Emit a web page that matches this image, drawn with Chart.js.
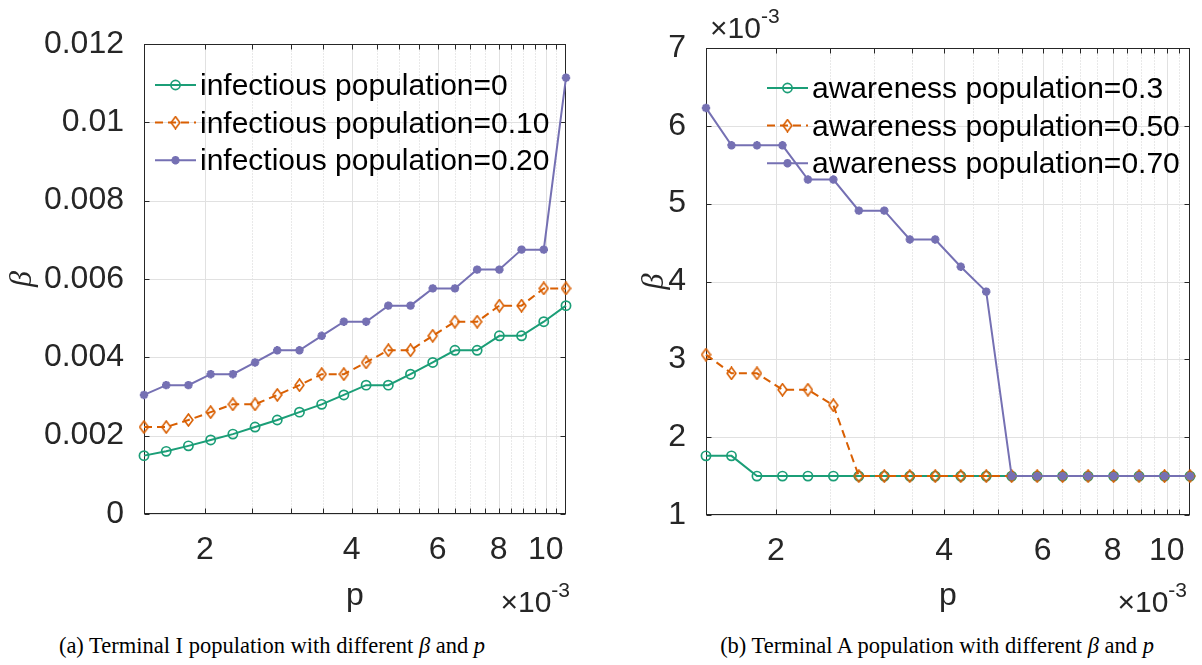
<!DOCTYPE html>
<html>
<head>
<meta charset="utf-8">
<script src="https://cdn.jsdelivr.net/npm/chart.js@4.4.1/dist/chart.umd.min.js"></script>
<style>
  html, body { margin: 0; padding: 0; background: #fff; }
  #wrap { position: relative; width: 1202px; height: 665px; overflow: hidden; }
  canvas { position: absolute; top: 0; }
  .cap { position: absolute; top: 633px; width: 520px; text-align: center;
         font: 22.5px "Liberation Serif", "Times New Roman", serif; color: #000; white-space: nowrap; }
</style>
</head>
<body>
<div id="wrap">
  <canvas id="chartI" width="601" height="620" style="left:0"></canvas>
  <canvas id="chartA" width="601" height="620" style="left:601px"></canvas>
  <div class="cap" style="left:12px">(a) Terminal I population with different <i>β</i> and <i>p</i></div>
  <div class="cap" style="left:677px">(b) Terminal A population with different <i>β</i> and <i>p</i></div>
</div>
<script>
// p values (units of 1e-3)
const pValues = [1.5, 1.666, 1.85, 2.055, 2.282, 2.534, 2.814, 3.125, 3.471, 3.854,
                 4.281, 4.754, 5.279, 5.863, 6.511, 7.231, 8.031, 8.918, 9.904, 11.0];

const xMajorTicks = [2, 4, 6, 8, 10];
const xMinorTicks = [2.5, 3, 3.5, 4.5, 5, 5.5, 6.5, 7, 7.5, 8.5, 9, 9.5, 10.5];

// (a) beta vs p for infectious population
const betaInf0  = [0.00149, 0.00160, 0.00174, 0.00189, 0.00204, 0.00222, 0.00240, 0.00260, 0.00280, 0.00304,
                   0.00329, 0.00329, 0.00357, 0.00387, 0.00418, 0.00418, 0.00455, 0.00455, 0.00491, 0.00532];
const betaInf10 = [0.00222, 0.00222, 0.00240, 0.00260, 0.00280, 0.00280, 0.00304, 0.00329, 0.00357, 0.00357,
                   0.00387, 0.00418, 0.00418, 0.00455, 0.00491, 0.00491, 0.00532, 0.00532, 0.00576, 0.00576];
const betaInf20 = [0.00304, 0.00329, 0.00329, 0.00357, 0.00357, 0.00387, 0.00418, 0.00418, 0.00455, 0.00491,
                   0.00491, 0.00532, 0.00532, 0.00576, 0.00576, 0.00624, 0.00624, 0.00675, 0.00675, 0.01114];
const infLabels = ['infectious population=0', 'infectious population=0.10', 'infectious population=0.20'];
const yTicksI  = [0, 0.002, 0.004, 0.006, 0.008, 0.01, 0.012];
const yLabelsI = ['0', '0.002', '0.004', '0.006', '0.008', '0.01', '0.012'];

// (b) beta vs p for awareness population (units of 1e-3)
const betaAw30 = [1.76, 1.76, 1.5, 1.5, 1.5, 1.5, 1.5, 1.5, 1.5, 1.5,
                  1.5, 1.5, 1.5, 1.5, 1.5, 1.5, 1.5, 1.5, 1.5, 1.5];
const betaAw50 = [3.06, 2.82, 2.82, 2.61, 2.61, 2.41, 1.5, 1.5, 1.5, 1.5,
                  1.5, 1.5, 1.5, 1.5, 1.5, 1.5, 1.5, 1.5, 1.5, 1.5];
const betaAw70 = [6.23, 5.75, 5.75, 5.75, 5.31, 5.31, 4.91, 4.91, 4.54, 4.54,
                  4.19, 3.87, 1.5, 1.5, 1.5, 1.5, 1.5, 1.5, 1.5, 1.5];
const awLabels = ['awareness population=0.3', 'awareness population=0.50', 'awareness population=0.70'];
const yTicksA  = [1, 2, 3, 4, 5, 6, 7];
const yLabelsA = ['1', '2', '3', '4', '5', '6', '7'];

const GREEN = '#1b9e77', ORANGE = '#d95f02', PURPLE = '#7570b3';
const AXIS = '#262626';
const SANS = '"Liberation Sans", Arial, Helvetica, sans-serif';

Chart.defaults.font.family = SANS;
Chart.defaults.color = AXIS;

// open diamond marker, a bit taller than wide
const diamond = document.createElement('canvas');
diamond.width = 11; diamond.height = 14;
(() => {
  const c = diamond.getContext('2d');
  c.strokeStyle = ORANGE; c.lineWidth = 1.6;
  c.beginPath();
  c.moveTo(5.5, 1); c.lineTo(9.9, 7); c.lineTo(5.5, 13); c.lineTo(1.1, 7); c.closePath();
  c.stroke();
})();

const crisp = v => Math.round(v) + 0.5;

function seg(ctx, x1, y1, x2, y2) {
  ctx.beginPath(); ctx.moveTo(x1, y1); ctx.lineTo(x2, y2); ctx.stroke();
}

// grid, box and inward ticks under the data; legend and exponent labels on top
const matlabAxes = {
  id: 'matlabAxes',
  beforeDatasetsDraw(chart, args, opts) {
    const { ctx, chartArea: a, scales: { x, y } } = chart;
    const L = crisp(a.left), R = crisp(a.right - 1), T = crisp(a.top), B = crisp(a.bottom - 1);
    ctx.save();
    ctx.lineWidth = 1;
    ctx.strokeStyle = '#d2d2d2';
    ctx.setLineDash([1, 2]);
    xMinorTicks.forEach(v => { const px = crisp(x.getPixelForValue(v)); seg(ctx, px, T, px, B); });
    ctx.setLineDash([]);
    ctx.strokeStyle = '#e1e1e1';
    xMajorTicks.forEach(v => { const px = crisp(x.getPixelForValue(v)); seg(ctx, px, T, px, B); });
    y.ticks.forEach(t => { const py = crisp(y.getPixelForValue(t.value)); seg(ctx, L, py, R, py); });

    ctx.strokeStyle = AXIS;
    ctx.strokeRect(L, T, R - L, B - T);
    xMajorTicks.concat(xMinorTicks).forEach(v => {
      const px = crisp(x.getPixelForValue(v));
      seg(ctx, px, B, px, B - 5);
      seg(ctx, px, T, px, T + 5);
    });
    y.ticks.forEach(t => {
      const py = crisp(y.getPixelForValue(t.value));
      seg(ctx, L, py, L + 5, py);
      seg(ctx, R, py, R - 5, py);
    });
    ctx.restore();
  },
  afterDatasetsDraw(chart, args, opts) {
    const { ctx, chartArea: a } = chart;
    ctx.save();
    // legend
    const lx = a.left + opts.legendX, ly = a.top + opts.legendY;
    chart.data.datasets.forEach((ds, i) => {
      const yy = ly + i * 37.6;
      ctx.strokeStyle = ds.borderColor;
      ctx.lineWidth = ds.borderWidth;
      ctx.setLineDash(ds.borderDash || []);
      seg(ctx, lx, yy, lx + 41, yy);
      ctx.setLineDash([]);
      ctx.lineWidth = ds.pointBorderWidth;
      ctx.fillStyle = ds.pointBackgroundColor;
      Chart.helpers.drawPoint(ctx, { pointStyle: ds.pointStyle, radius: ds.pointRadius,
        borderWidth: ds.pointBorderWidth, rotation: 0 }, lx + 20.5, yy);
      ctx.fillStyle = '#000';
      ctx.font = '30px ' + SANS;
      ctx.textBaseline = 'middle';
      ctx.textAlign = 'left';
      ctx.fillText(ds.label, lx + 45, yy + 2);
    });
    // x10^-3 multipliers
    ctx.fillStyle = AXIS;
    ctx.textBaseline = 'alphabetic';
    opts.expo.forEach(e => {
      ctx.font = '30px ' + SANS;
      const w1 = ctx.measureText('×10').width;
      ctx.font = '21px ' + SANS;
      const w2 = ctx.measureText('-3').width;
      const x0 = e.anchor === 'right' ? a.right + e.dx - w1 - w2 : a.left + e.dx;
      ctx.font = '30px ' + SANS;
      ctx.textAlign = 'left';
      ctx.fillText('×10', x0, e.y);
      ctx.font = '21px ' + SANS;
      ctx.fillText('-3', x0 + w1, e.y - 15);
    });
    ctx.restore();
  }
};

function series(label, data, color, style) {
  return Object.assign({
    label, data: data.map((v, i) => ({ x: pValues[i], y: v })),
    borderColor: color, pointBorderColor: color, borderWidth: 2, tension: 0,
    pointBackgroundColor: 'rgba(0,0,0,0)', pointBorderWidth: 1.7, clip: false
  }, style);
}

function buildChart(id, sets, yTicks, yLabels, yMin, yMax, layout) {
  return new Chart(document.getElementById(id), {
    type: 'line',
    data: {
      datasets: [
        series(sets[0].label, sets[0].data, GREEN, { pointStyle: 'circle', pointRadius: 4.6, order: 2 }),
        series(sets[1].label, sets[1].data, ORANGE, { pointStyle: diamond, pointRadius: 6, borderDash: [8, 5], order: 1 }),
        series(sets[2].label, sets[2].data, PURPLE, { pointStyle: 'star', pointRadius: 4.2, pointBorderWidth: 2.6,
                                                       pointBackgroundColor: PURPLE, order: 0 })
      ]
    },
    options: {
      responsive: false, animation: false, devicePixelRatio: 1,
      layout: { padding: { top: layout.top, right: layout.right, left: 0, bottom: 0 } },
      plugins: {
        legend: { display: false }, tooltip: { enabled: false },
        matlabAxes: { legendX: layout.legendX, legendY: layout.legendY, expo: layout.expo }
      },
      scales: {
        x: {
          type: 'logarithmic', min: pValues[0], max: pValues[pValues.length - 1],
          afterBuildTicks: s => { s.ticks = xMajorTicks.map(v => ({ value: v })); },
          afterFit: s => { s.height = layout.xHeight; },
          ticks: { autoSkip: false, maxRotation: 0, minRotation: 0, padding: 9,
                   font: { size: 32 }, color: AXIS, callback: v => String(v) },
          grid: { display: false }, border: { display: false },
          title: { display: true, text: 'p', font: { size: 32 }, color: AXIS, padding: { top: 0, bottom: 5 } }
        },
        y: {
          type: 'linear', min: yMin, max: yMax,
          afterBuildTicks: s => { s.ticks = yTicks.map(v => ({ value: v })); },
          afterFit: s => { s.width = layout.yWidth; },
          ticks: { padding: 12, font: { size: 32 }, color: AXIS, callback: (v, i) => yLabels[i] },
          grid: { display: false }, border: { display: false },
          title: { display: true, text: 'β', color: AXIS, padding: { top: layout.betaPad, bottom: 0 },
                   font: { family: '"Liberation Serif", "Times New Roman", serif', style: 'italic', size: 32 } }
        }
      }
    },
    plugins: [matlabAxes]
  });
}

buildChart('chartI',
  [{ label: infLabels[0], data: betaInf0 }, { label: infLabels[1], data: betaInf10 }, { label: infLabels[2], data: betaInf20 }],
  yTicksI, yLabelsI, 0, 0.012,
  { top: 44, right: 35, yWidth: 144, xHeight: 106, betaPad: 3, legendX: 11, legendY: 41,
    expo: [{ anchor: 'right', dx: 4, y: 612 }] });

buildChart('chartA',
  [{ label: awLabels[0], data: betaAw30 }, { label: awLabels[1], data: betaAw50 }, { label: awLabels[2], data: betaAw70 }],
  yTicksA, yLabelsA, 1, 7,
  { top: 48, right: 12, yWidth: 105, xHeight: 105, betaPad: 34, legendX: 61, legendY: 40,
    expo: [{ anchor: 'right', dx: -3, y: 612 }, { anchor: 'left', dx: 4, y: 38 }] });
</script>
</body>
</html>
